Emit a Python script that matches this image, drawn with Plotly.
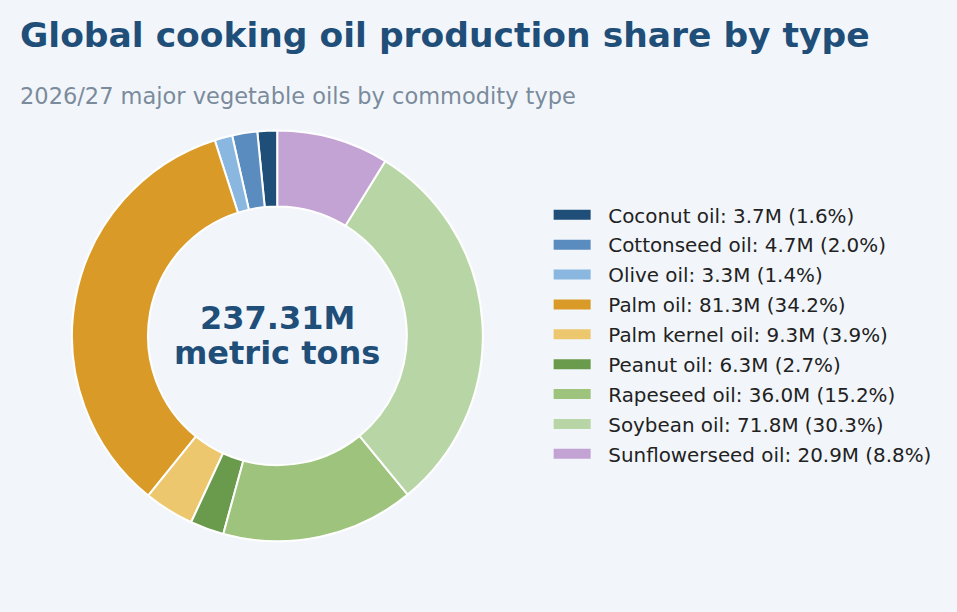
import plotly.graph_objects as go

# 2026/27 vegetable oil production, million metric tons
oil_types = ["Coconut oil", "Cottonseed oil", "Olive oil", "Palm oil", "Palm kernel oil",
             "Peanut oil", "Rapeseed oil", "Soybean oil", "Sunflowerseed oil"]
production = [3.71, 4.69, 3.31, 81.26, 9.31, 6.31, 36.02, 71.81, 20.89]
colors = ["#1f4e79", "#5b8cc0", "#8ab7df", "#d99a28", "#edc76d",
          "#6a9a4b", "#9dc37c", "#b8d6a5", "#c3a2d4"]

total = sum(production)
legend_labels = [f"{name}: {val:.1f}M ({val / total * 100:.1f}%)" for name, val in zip(oil_types, production)]

FONT = "DejaVu Sans"
DARK_BLUE = "#1f4e79"
BG = "#f2f6fb"

fig = go.Figure()
fig.add_pie(
    labels=legend_labels,
    values=production,
    marker=dict(colors=colors, line=dict(color="white", width=2)),
    hole=0.63,
    sort=False,
    direction="counterclockwise",
    # plotly puts the first ccw slice right of 12 o'clock, shift it to end there
    rotation=-production[0] / total * 360,
    textinfo="none",
    hoverinfo="label",
    showlegend=False,
    domain=dict(x=[0.0567, 0.5047], y=[0.068, 0.977]),
)

# legend entries drawn as thick line swatches (wide rectangles like the original)
for i, (lab, col) in enumerate(zip(legend_labels, colors)):
    fig.add_scatter(x=[None], y=[None], mode="lines", name="\u00a0\u00a0" + lab,
                    legendgroup=f"g{i}",
                    line=dict(color=col, width=12), hoverinfo="skip")

# center total (two annotations to keep the lines tight)
fig.add_annotation(
    x=0.2807, y=0.562, xref="paper", yref="paper", xanchor="center", yanchor="middle",
    text=f"<b>{total:.2f}M</b>", showarrow=False,
    font=dict(family=FONT, size=32, color=DARK_BLUE),
)
fig.add_annotation(
    x=0.2807, y=0.4845, xref="paper", yref="paper", xanchor="center", yanchor="middle",
    text="<b>metric tons</b>", showarrow=False,
    font=dict(family=FONT, size=32, color=DARK_BLUE),
)

# title + subtitle
fig.add_annotation(
    x=-0.002, y=1.188, xref="paper", yref="paper", xanchor="left", yanchor="middle",
    text="<b>Global cooking oil production share by type</b>",
    showarrow=False, font=dict(family=FONT, size=34.5, color=DARK_BLUE),
)
fig.add_annotation(
    x=-0.002, y=1.053, xref="paper", yref="paper", xanchor="left", yanchor="middle",
    text="2026/27 major vegetable oils by commodity type",
    showarrow=False, font=dict(family=FONT, size=22.5, color="#7b8b9c"),
)

fig.update_layout(
    legend=dict(
        x=0.5765, xanchor="left", y=0.5256, yanchor="middle",
        font=dict(family=FONT, size=19.9, color="#222222"),
        itemwidth=37,
        tracegroupgap=1,
        bgcolor="rgba(0,0,0,0)",
    ),
    xaxis=dict(visible=False),
    yaxis=dict(visible=False),
    paper_bgcolor=BG,
    plot_bgcolor=BG,
    width=957, height=612,
    margin=dict(l=20, r=20, t=120, b=40),
    font=dict(family=FONT),
)

fig.write_html("out.html", config={"displayModeBar": False},
               post_script="document.body.style.margin='0';")
